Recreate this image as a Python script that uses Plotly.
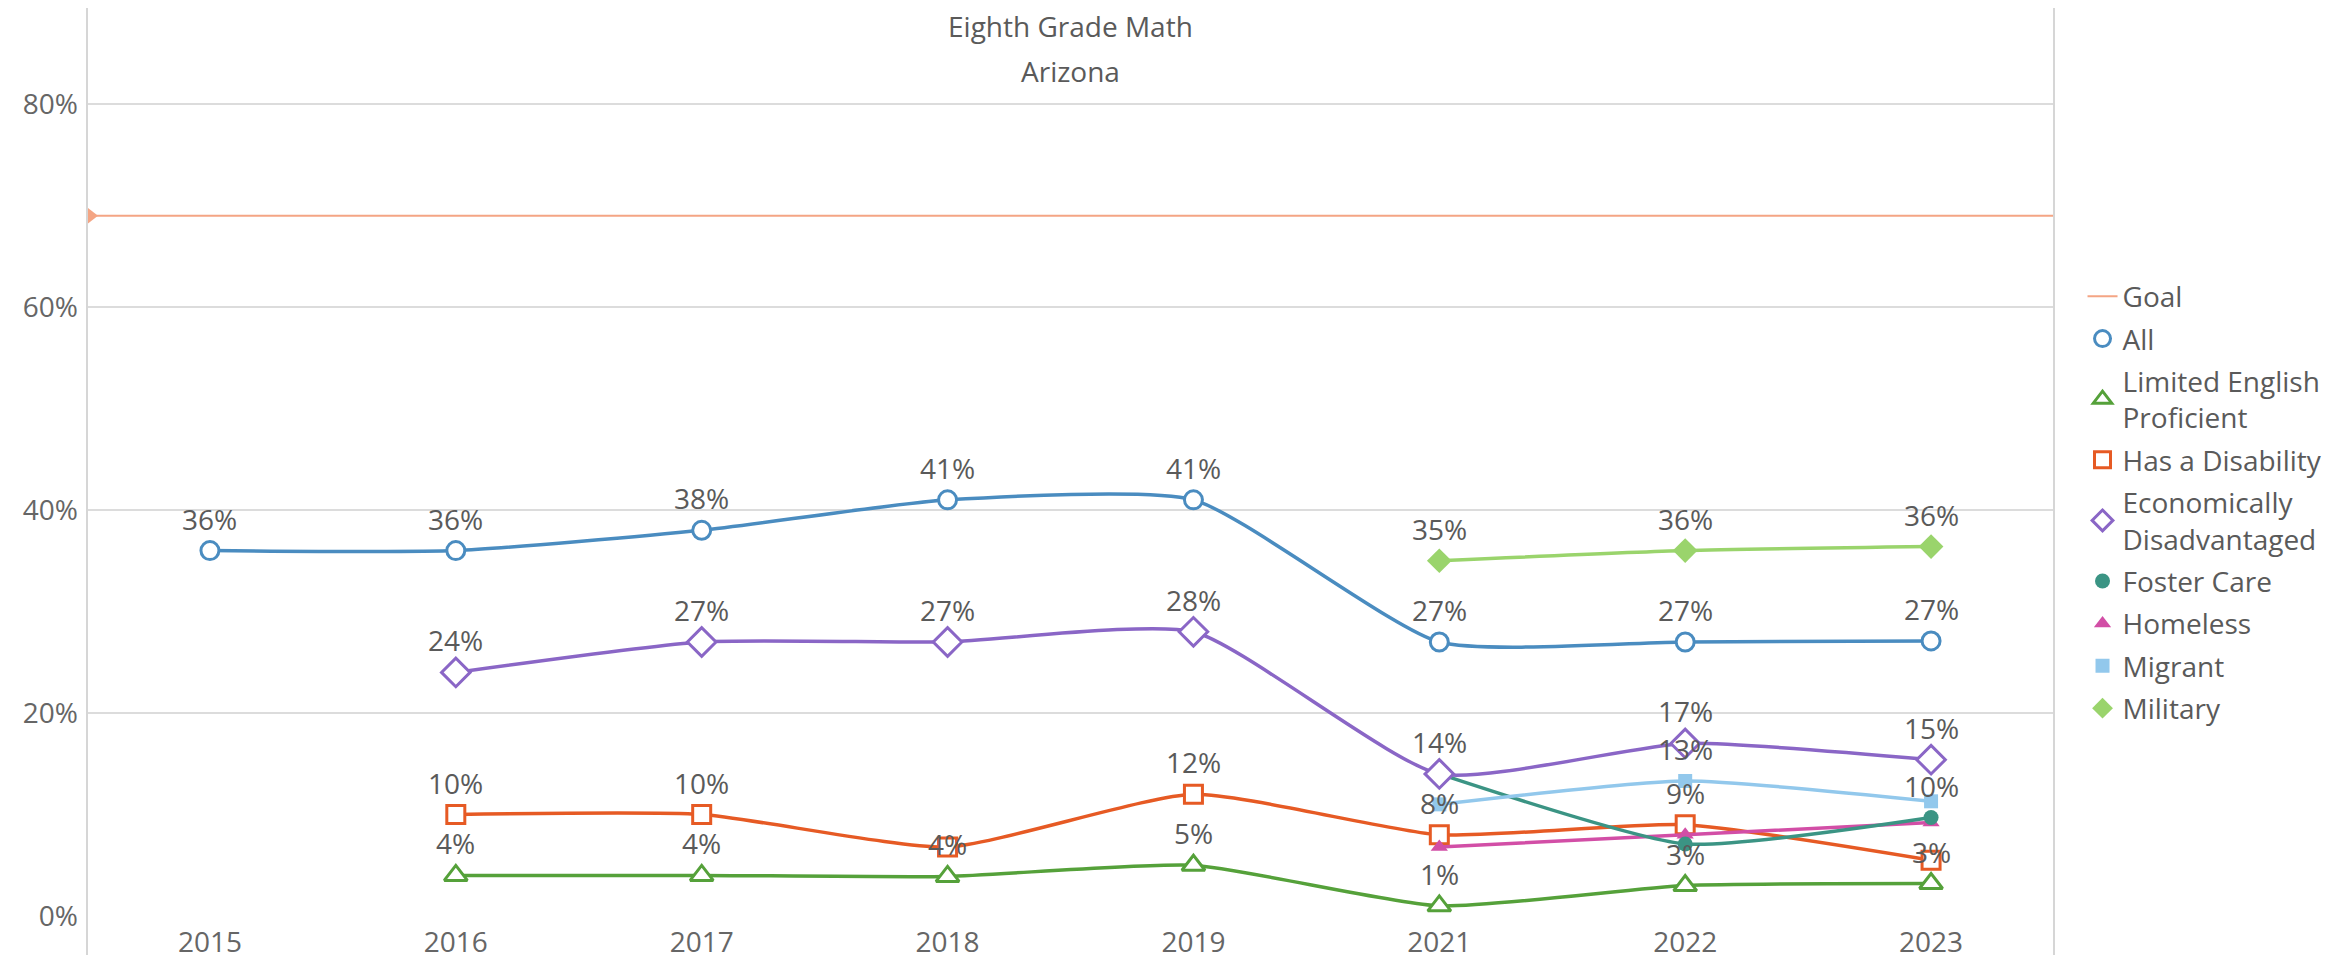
import plotly.graph_objects as go

# ---------------- data ----------------
years = ["2015", "2016", "2017", "2018", "2019", "2021", "2022", "2023"]
goal_value = 69

all_students = [36, 36, 38, 41, 41, 27, 27, 27.1]
limited_english = [None, 4, 4, 3.9, 5, 1, 3, 3.2]
has_disability = [None, 10, 10, 6.8, 12, 8, 9, 5.5]
econ_disadv = [None, 24, 27, 27, 28, 14, 17, 15.4]
foster_care = [None, None, None, None, None, 14, 7.1, 9.7]
homeless = [None, None, None, None, None, 6.8, 8.0, 9.2]
migrant = [None, None, None, None, None, 11, 13.3, 11.3]
military = [None, None, None, None, None, 35, 36, 36.4]

y_ticks = [0, 20, 40, 60, 80]

# data labels hidden in the original because they overlapped other labels
hidden_labels = {
    "Has a Disability": ["2018", "2023"],
    "Foster Care": ["2021", "2022"],
    "Homeless": ["2021", "2022", "2023"],
    "Migrant": ["2021", "2023"],
}

# ---------------- styles ----------------
FONT = "Open Sans"
FS = 28
TXT = "#5a5a5a"
GRID = "#dcdcdc"

series = [
    # name, values, color, symbol, size, open?
    ("All", all_students, "#4a8cc0", "circle", 18, True),
    ("Limited English<br>Proficient", limited_english, "#55a13a", "triangle-up", 20, True),
    ("Has a Disability", has_disability, "#e65a24", "square", 18, True),
    ("Economically<br>Disadvantaged", econ_disadv, "#8a66c6", "diamond", 22, True),
    ("Foster Care", foster_care, "#3b9484", "circle", 15, False),
    ("Homeless", homeless, "#d24ea6", "triangle-up", 15, False),
    ("Migrant", migrant, "#92c8ec", "square", 14, False),
    ("Military", military, "#9ad46c", "diamond", 19, False),
]
draw_order = ["All", "Limited English<br>Proficient", "Has a Disability", "Homeless",
              "Foster Care", "Economically<br>Disadvantaged", "Migrant", "Military"]

xs = list(range(len(years)))
GOAL_COLOR = "#f4a584"

fig = go.Figure()

# goal line across the full plot width
fig.add_trace(go.Scatter(
    x=[-0.5, len(years) - 0.5], y=[goal_value, goal_value], mode="lines",
    line=dict(color=GOAL_COLOR, width=2), showlegend=False, hoverinfo="skip",
    legendgroup="main"))
fig.add_trace(go.Scatter(
    x=[-0.5], y=[goal_value], mode="markers", cliponaxis=True,
    marker=dict(symbol="triangle-right", size=22, color=GOAL_COLOR),
    showlegend=False, hoverinfo="skip", legendgroup="main"))

lookup = {s[0]: s for s in series}
for name in draw_order:
    _, vals, color, symbol, size, is_open = lookup[name]
    marker = dict(symbol=symbol, size=size, color="white" if is_open else color,
                  line=dict(color=color, width=3 if is_open else 0))
    fig.add_trace(go.Scatter(
        x=xs, y=vals, mode="lines+markers", name=name, showlegend=False,
        line=dict(color=color, width=3.5, shape="spline", smoothing=0.55),
        marker=marker, connectgaps=False, cliponaxis=False, legendgroup="main"))

# legend-only entries (symbols without lines, as in the original)
legend_items = [("Goal", None, GOAL_COLOR, None, None, None)] + series
for i, (name, _, color, symbol, size, is_open) in enumerate(legend_items):
    if symbol is None:
        fig.add_trace(go.Scatter(x=[None], y=[None], mode="lines", name=name,
                                 line=dict(color=color, width=2),
                                 legendgroup=f"g{i}"))
    else:
        fig.add_trace(go.Scatter(
            x=[None], y=[None], mode="markers", name=name, legendgroup=f"g{i}",
            marker=dict(symbol=symbol, size=min(size, 16),
                        color="white" if is_open else color,
                        line=dict(color=color, width=3 if is_open else 0))))

# data labels (drawn on top of everything)
annotations = []
for name, vals, color, symbol, size, is_open in series:
    plain = name.replace("<br>", " ")
    hide = hidden_labels.get(plain, [])
    for x, yr, v in zip(xs, years, vals):
        if v is None or yr in hide:
            continue
        annotations.append(dict(
            x=x, y=v, xref="x", yref="y", text=f"{v:.0f}%", showarrow=False,
            yshift=32, font=dict(family=FONT, size=FS, color=TXT)))

# titles
PLOT_H = 908
annotations.append(dict(x=0.5, y=1 - 18 / PLOT_H, xref="paper", yref="paper",
                        yanchor="middle", text="Eighth Grade Math", showarrow=False,
                        borderpad=0,
                        font=dict(family=FONT, size=FS, color=TXT)))
annotations.append(dict(x=0.5, y=1 - 63 / PLOT_H, xref="paper", yref="paper",
                        yanchor="middle", text="Arizona", showarrow=False,
                        borderpad=0,
                        font=dict(family=FONT, size=FS, color=TXT)))

shapes = [
    dict(type="line", xref="paper", yref="paper", x0=0, x1=0, y0=-0.043, y1=1,
         line=dict(color="#d6d6d6", width=2)),
    dict(type="line", xref="paper", yref="paper", x0=1, x1=1, y0=-0.043, y1=1,
         line=dict(color="#d6d6d6", width=2)),
]

fig.update_layout(
    width=2338, height=952,
    margin=dict(l=79, r=292, t=0, b=44),
    paper_bgcolor="white", plot_bgcolor="white",
    font=dict(family=FONT, size=FS, color=TXT),
    xaxis=dict(range=[-0.5, len(years) - 0.5], tickvals=xs, ticktext=years,
               showgrid=False, zeroline=False, showline=False, ticks="",
               ticklabelstandoff=7,
               tickfont=dict(family=FONT, size=FS, color="#666666"),
               fixedrange=True),
    yaxis=dict(range=[0, 89.46], tickvals=y_ticks,
               ticktext=[f"{t}%" for t in y_ticks],
               showgrid=True, gridcolor=GRID, gridwidth=2, zeroline=False,
               showline=False, ticks="", ticklabelstandoff=8,
               tickfont=dict(family=FONT, size=FS, color="#666666"),
               fixedrange=True),
    legend=dict(x=1.0145, xanchor="left", y=0.7098, yanchor="top",
                font=dict(family=FONT, size=FS, color=TXT),
                tracegroupgap=3, traceorder="grouped", bgcolor="rgba(0,0,0,0)"),
    annotations=annotations,
    shapes=shapes,
    showlegend=True,
)

fig.write_html("out.html")
